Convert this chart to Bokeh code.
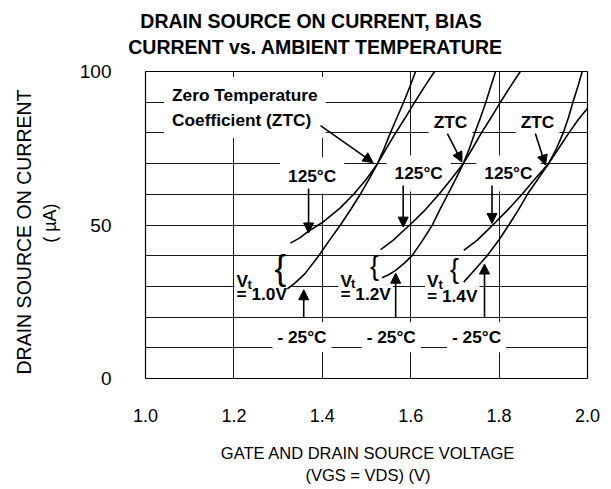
import math
from bokeh.plotting import figure
from bokeh.models import (Range1d, FixedTicker, PrintfTickFormatter, Label, Arrow,
                          NormalHead, ColumnDataSource)
from bokeh.core.properties import value
from bokeh.embed import file_html
from bokeh.resources import INLINE

# ---------------- data ----------------
x_ticks = [1.0, 1.2, 1.4, 1.6, 1.8, 2.0]
y_ticks = [0, 50, 100]
x_grid = [1.2, 1.4, 1.6, 1.8]
y_grid = [10, 20, 30, 40, 50, 60, 70, 80, 90]

# Vt = 1.0 V
vt10_125_x = [1.328, 1.35, 1.366, 1.40, 1.44, 1.471, 1.50, 1.525, 1.545, 1.566, 1.588, 1.609, 1.631, 1.654]
vt10_125_y = [44.1, 45.9, 47.7, 50.8, 55.5, 60.0, 65.0, 70.0, 75.0, 80.0, 85.0, 90.0, 95.0, 100.0]
vt10_m25_x = [1.321, 1.336, 1.36, 1.392, 1.416, 1.441, 1.465, 1.486, 1.506, 1.525, 1.54, 1.554, 1.569, 1.584, 1.598, 1.611]
vt10_m25_y = [29.2, 30.8, 34.0, 40.0, 45.0, 50.0, 55.2, 60.0, 65.0, 70.0, 75.0, 80.0, 85.0, 90.0, 95.0, 100.0]
# Vt = 1.2 V
vt12_125_x = [1.532, 1.56, 1.584, 1.598, 1.63, 1.664, 1.692, 1.719, 1.74, 1.76, 1.782, 1.803, 1.825, 1.848]
vt12_125_y = [42.0, 45.0, 48.2, 50.0, 54.5, 60.0, 65.0, 70.0, 75.0, 80.0, 85.0, 90.0, 95.0, 100.0]
vt12_m25_x = [1.535, 1.55, 1.566, 1.585, 1.603, 1.627, 1.649, 1.666, 1.684, 1.702, 1.719, 1.733, 1.745, 1.758, 1.770, 1.781, 1.792]
vt12_m25_y = [32.8, 33.8, 35.2, 37.5, 40.0, 45.0, 50.0, 55.0, 60.0, 65.0, 70.0, 75.0, 80.0, 85.0, 90.0, 95.0, 100.0]
# Vt = 1.4 V
vt14_125_x = [1.72, 1.75, 1.775, 1.792, 1.82, 1.852, 1.88, 1.912, 1.935, 1.958, 1.98, 2.0]
vt14_125_y = [41.7, 45.0, 48.5, 50.9, 55.0, 60.0, 64.8, 70.0, 75.0, 80.0, 84.5, 88.0]
vt14_m25_x = [1.72, 1.745, 1.773, 1.80, 1.822, 1.844, 1.864, 1.888, 1.912, 1.93, 1.945, 1.957, 1.967, 1.978, 1.988]
vt14_m25_y = [31.4, 35.4, 40.0, 45.2, 50.0, 55.0, 60.0, 65.0, 70.0, 75.0, 80.0, 85.0, 90.0, 95.0, 100.0]

curves = [(vt10_125_x, vt10_125_y), (vt10_m25_x, vt10_m25_y),
          (vt12_125_x, vt12_125_y), (vt12_m25_x, vt12_m25_y),
          (vt14_125_x, vt14_125_y), (vt14_m25_x, vt14_m25_y)]

# annotation texts
hot_text = ["125\u00b0C", "125\u00b0C", "125\u00b0C"]
hot_x = [1.377, 1.618, 1.821]
hot_y = [66.1, 66.8, 66.8]
cold_text = ["- 25\u00b0C", "- 25\u00b0C", "- 25\u00b0C"]
cold_x = [1.354, 1.556, 1.749]
cold_y = [13.5, 13.4, 13.4]
ztc_text = ["ZTC", "ZTC"]
ztc_x = [1.690, 1.887]
ztc_y = [83.7, 83.7]
zero_text = ["Zero Temperature\nCoefficient (ZTC)"]
zero_x = [1.060]
zero_y = [88.3]
vt_v_x = [1.206, 1.441, 1.637]
vt_v_y = [31.9, 31.7, 31.9]
vt_t_x = [1.231, 1.465, 1.663]
vt_t_y = [30.6, 30.9, 30.6]
vt_eq_text = ["= 1.0V", "= 1.2V", "= 1.4V"]
vt_eq_x = [1.206, 1.441, 1.637]
vt_eq_y = [27.4, 27.4, 27.0]
brace_big_x = [1.305]
brace_big_y = [36.3]
brace_x = [1.518, 1.699]
brace_y = [36.8, 35.8]

arrow_x0 = [1.396, 1.683, 1.882, 1.369, 1.583, 1.784, 1.358, 1.566, 1.767]
arrow_y0 = [82.4, 79.8, 79.8, 61.9, 62.9, 62.9, 19.8, 19.8, 19.8]
arrow_x1 = [1.515, 1.716, 1.905, 1.369, 1.583, 1.784, 1.358, 1.566, 1.767]
arrow_y1 = [70.3, 70.5, 69.5, 47.4, 49.3, 50.5, 28.9, 34.3, 37.3]

title_lines = ["DRAIN SOURCE ON CURRENT, BIAS", "CURRENT vs. AMBIENT TEMPERATURE"]
y_label_lines = ["DRAIN SOURCE ON CURRENT", "( \u00b5A)"]
x_label_lines = ["GATE AND DRAIN SOURCE VOLTAGE", "(VGS = VDS) (V)"]

FONT = "Liberation Sans"

# ---------------- figure ----------------
p = figure(frame_width=442, frame_height=307,
           x_range=Range1d(1.0, 2.0), y_range=Range1d(0, 100),
           output_backend="svg", toolbar_location=None,
           min_border_left=145, min_border_right=24,
           min_border_top=71, min_border_bottom=111)
p.background_fill_color = "white"
p.border_fill_color = "white"
p.outline_line_color = "black"
p.outline_line_width = 1.2

for ax in (p.xaxis[0], p.yaxis[0]):
    ax.axis_line_color = None
    ax.major_tick_line_color = None
    ax.minor_tick_line_color = None
    ax.major_label_text_font = FONT
    ax.major_label_text_color = "black"

p.xaxis.ticker = FixedTicker(ticks=x_ticks)
p.xaxis.formatter = PrintfTickFormatter(format="%.1f")
p.xaxis.major_label_text_font_size = "18px"
p.xaxis.major_label_standoff = 24
p.yaxis.ticker = FixedTicker(ticks=y_ticks)
p.yaxis.major_label_text_font_size = "19px"
p.yaxis.major_label_standoff = 28

p.xgrid.ticker = FixedTicker(ticks=x_grid)
p.ygrid.ticker = FixedTicker(ticks=y_grid)
for g in (p.xgrid[0], p.ygrid[0]):
    g.grid_line_color = "#1a1a1a"
    g.grid_line_width = 1
    g.grid_line_alpha = 1

# ---- text with white boxes (drawn before curves) ----
common = dict(text_font=value(FONT), text_font_style="bold", text_color="black",
              background_fill_color="white")
p.text(x=zero_x, y=zero_y, text=zero_text, text_align="left", text_baseline="middle",
       text_font_size="17.3px", text_line_height=1.25, padding=8, x_offset=-8, **common)
p.text(x=hot_x, y=hot_y, text=hot_text, text_align="center", text_baseline="middle",
       text_font_size="17.3px", padding=8, **common)
p.text(x=cold_x, y=cold_y, text=cold_text, text_align="center", text_baseline="middle",
       text_font_size="17.3px", padding=5, **common)
p.text(x=ztc_x, y=ztc_y, text=ztc_text, text_align="center", text_baseline="middle",
       text_font_size="17.3px", padding=5, **common)
p.text(x=vt_eq_x, y=vt_eq_y, text=vt_eq_text, text_align="left", text_baseline="middle",
       text_font_size="17.3px", padding=2, x_offset=-2, **common)

p.text(x=vt_v_x, y=vt_v_y, text=["V"] * 3, text_align="left", text_baseline="alphabetic",
       text_font=value(FONT), text_font_style="bold", text_font_size="17.3px")
p.text(x=vt_t_x, y=vt_t_y, text=["t"] * 3, text_align="left", text_baseline="alphabetic",
       text_font=value(FONT), text_font_style="bold", text_font_size="13px")
p.text(x=brace_big_x, y=brace_big_y, text=["{"], text_align="center", text_baseline="middle",
       text_font=value(FONT), text_font_size="35px")
p.text(x=brace_x, y=brace_y, text=["{", "{"], text_align="center", text_baseline="middle",
       text_font=value(FONT), text_font_size="27px")

# ---- curves ----
for cx, cy in curves:
    p.line(cx, cy, line_color="black", line_width=1.6)

# ---- arrows ----
arrow_src = ColumnDataSource(dict(x0=arrow_x0, y0=arrow_y0, x1=arrow_x1, y1=arrow_y1))
p.add_layout(Arrow(end=NormalHead(size=10, fill_color="black", line_color="black", line_width=1),
                   x_start="x0", y_start="y0", x_end="x1", y_end="y1", source=arrow_src,
                   line_color="black", line_width=1.6))

# ---- titles & axis labels: canvas-positioned labels living in the side panels ----
def lab(side, text, x, y, size, bold=False, angle=0.0, baseline="middle"):
    p.add_layout(Label(x=x, y=y, x_units="canvas", y_units="canvas", text=text,
                       text_font=FONT, text_font_size=size,
                       text_font_style="bold" if bold else "normal",
                       text_align="center", text_baseline=baseline, angle=angle,
                       text_color="black"), side)

lab("above", title_lines[0], 310.5, 20, "19.5px", bold=True, baseline="alphabetic")
lab("above", title_lines[1], 315, 46.7, "19.5px", bold=True, baseline="alphabetic")
lab("left", y_label_lines[0], 23, 231.5, "19.5px", angle=math.pi / 2)
lab("left", y_label_lines[1], 49, 222.6, "18px", angle=math.pi / 2)
lab("below", x_label_lines[0], 367.5, 452, "16.5px")
lab("below", x_label_lines[1], 367.5, 474, "16.5px")

open("out.html", "w").write(file_html(p, INLINE))
